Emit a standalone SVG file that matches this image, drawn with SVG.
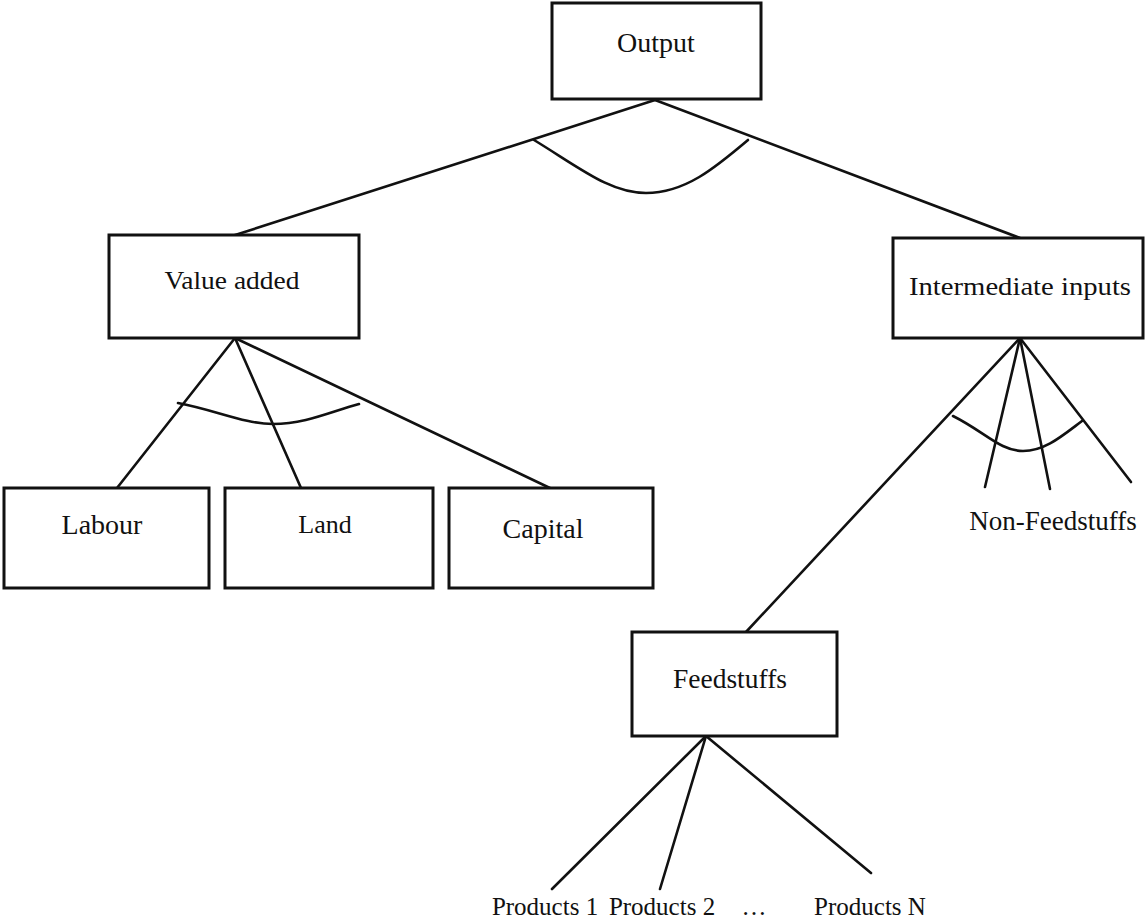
<svg xmlns="http://www.w3.org/2000/svg" width="1145" height="922" viewBox="0 0 1145 922">
  <style>
    .box { fill: #ffffff; stroke: #111111; stroke-width: 3; }
    .edge { fill: none; stroke: #111111; stroke-width: 2.6; stroke-linecap: round; }
    .lbl { font-family: "Liberation Serif", "Times New Roman", serif; font-size: 26px; fill: #111111; text-anchor: middle; }
  </style>
  <rect width="1145" height="922" fill="#ffffff"/>

  <!-- connectors and nesting arcs -->
  <g id="connectors">
    <line class="edge" x1="655" y1="100" x2="232" y2="236"/>
    <line class="edge" x1="655" y1="100" x2="1020" y2="238"/>
    <path class="edge" d="M534,140 C580,168 610,193 646,193 C685,193 715,168 748,140"/>

    <line class="edge" x1="235" y1="338" x2="117" y2="488"/>
    <line class="edge" x1="235" y1="338" x2="301" y2="488"/>
    <line class="edge" x1="235" y1="338" x2="552" y2="489"/>
    <path class="edge" d="M178,403 C215,410 245,424 273,424 C305,424 330,412 359,404"/>

    <line class="edge" x1="1020" y1="338" x2="746" y2="632"/>
    <line class="edge" x1="1020" y1="338" x2="985" y2="487"/>
    <line class="edge" x1="1020" y1="338" x2="1050" y2="489"/>
    <line class="edge" x1="1020" y1="338" x2="1131" y2="482"/>
    <path class="edge" d="M953,416 C985,432 1000,451 1023,451 C1045,451 1062,436 1082,421"/>

    <line class="edge" x1="706" y1="736" x2="552" y2="889"/>
    <line class="edge" x1="706" y1="736" x2="660" y2="889"/>
    <line class="edge" x1="706" y1="736" x2="871" y2="873"/>
  </g>

  <g id="output">
    <rect class="box" x="552" y="3" width="209" height="96"/>
    <text class="lbl" x="656" y="52" style="font-size:28px">Output</text>
  </g>

  <g id="value-added">
    <rect class="box" x="109" y="235" width="250" height="103"/>
    <text class="lbl" x="232" y="289" textLength="135" lengthAdjust="spacingAndGlyphs">Value added</text>
  </g>

  <g id="intermediate-inputs">
    <rect class="box" x="893" y="238" width="250" height="100"/>
    <text class="lbl" x="1020" y="295" textLength="222" lengthAdjust="spacingAndGlyphs">Intermediate  inputs</text>
  </g>

  <g id="labour">
    <rect class="box" x="4" y="488" width="205" height="100"/>
    <text class="lbl" x="102" y="534" style="font-size:28px">Labour</text>
  </g>

  <g id="land">
    <rect class="box" x="225" y="488" width="208" height="100"/>
    <text class="lbl" x="325" y="533">Land</text>
  </g>

  <g id="capital">
    <rect class="box" x="449" y="488" width="204" height="100"/>
    <text class="lbl" x="543" y="538" style="font-size:28px">Capital</text>
  </g>

  <g id="non-feedstuffs">
    <text class="lbl" x="1053" y="530" style="font-size:27px">Non-Feedstuffs</text>
  </g>

  <g id="feedstuffs">
    <rect class="box" x="632" y="632" width="205" height="104"/>
    <text class="lbl" x="730" y="688" style="font-size:27.5px">Feedstuffs</text>
  </g>

  <g id="products">
    <text class="lbl" x="545" y="915" style="font-size:25px">Products 1</text>
    <text class="lbl" x="662" y="915" style="font-size:25px">Products 2</text>
    <text class="lbl" x="754" y="915" style="font-size:25px">…</text>
    <text class="lbl" x="870" y="915" style="font-size:25px">Products N</text>
  </g>
</svg>
